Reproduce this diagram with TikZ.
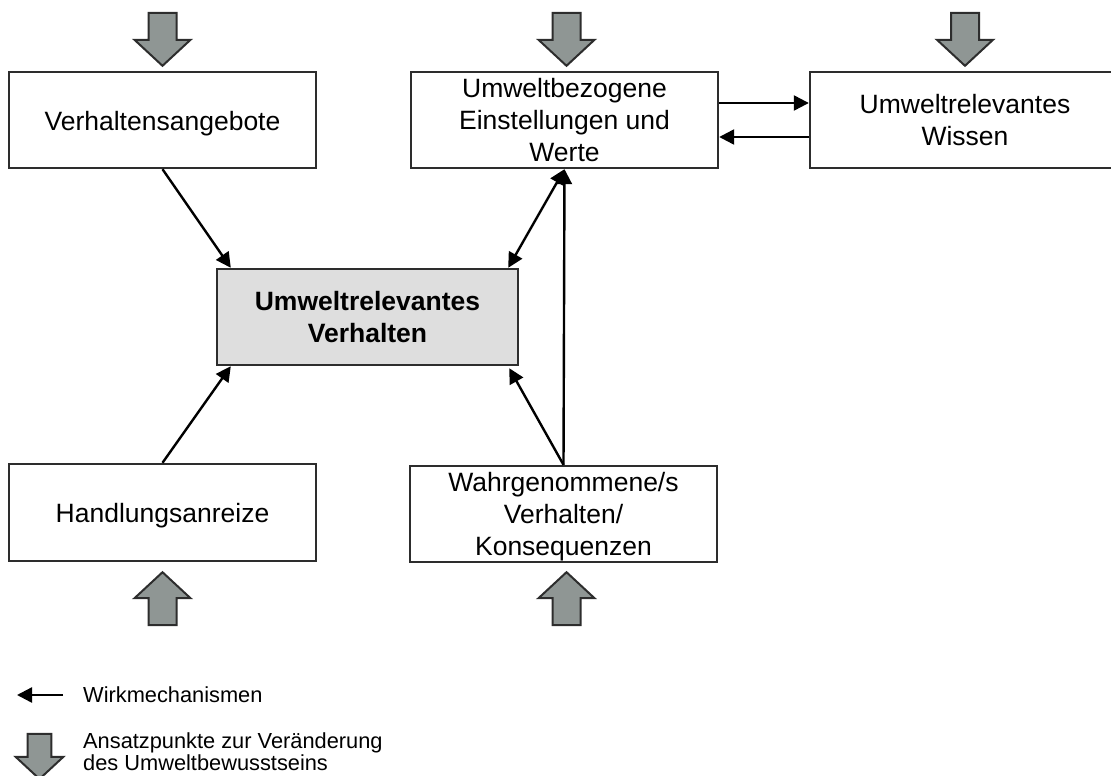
\documentclass[tikz,border=0pt]{standalone}
\usepackage{fontspec}
\setmainfont{Liberation Sans}
\usetikzlibrary{arrows.meta,calc}
\definecolor{boxline}{RGB}{45,45,45}
\definecolor{fatfill}{RGB}{143,150,148}
\definecolor{corefill}{RGB}{222,222,222}
\tikzset{
  box/.style={draw=boxline, line width=2.4pt, fill=white, minimum width=307pt,
    minimum height=96pt, inner sep=0pt, align=center,
    font=\fontsize{26.5}{32}\selectfont},
  core/.style={box, fill=corefill, minimum width=301pt,
    font=\fontsize{26.5}{32}\selectfont\bfseries},
  oneline/.style={text height=20pt, text depth=0pt},
  tipshape/.tip={Triangle[length=15pt,width=15pt]},
  link/.style={line width=2.4pt, -tipshape},
  twolink/.style={line width=2.4pt, tipshape-tipshape},
  fatarrow/.pic={\draw[draw=boxline, line width=2pt, fill=fatfill, line join=miter]
    (-14,-53) -- (14,-53) -- (14,-26) -- (28,-26) -- (0,0) -- (-28,-26) -- (-14,-26) -- cycle;},
  legendtext/.style={inner sep=0pt, align=left, font=\fontsize{21.8}{22}\selectfont}
}
\begin{document}
\begin{tikzpicture}[x=1pt,y=-1pt]
  \useasboundingbox (0,0) rectangle (1111,776);
  \clip (0,0) rectangle (1111,776);

  % boxes
  \node[box, oneline] (va) at (162.5,120) {Verhaltensangebote};
  \node[box, text depth=-4pt] (ub) at (564.5,120) {Umweltbezogene\\Einstellungen und\\Werte};
  \node[box, minimum width=310pt, text depth=-4pt] (wi) at (965,120) {Umweltrelevantes\\Wissen};
  \node[core, text depth=-4pt] (uv) at (367.5,317) {Umweltrelevantes\\Verhalten};
  \node[box, oneline, minimum height=97pt] (ha) at (162.5,512.5) {Handlungsanreize};
  \node[box, text depth=-0.5pt] (wg) at (563.5,514) {Wahrgenommene/s\\Verhalten/\\Konsequenzen};

  % mechanisms
  \draw[link] (va.south) -- ($(uv.north west)+(15,0)$);
  \draw[link] (ha.north) -- ($(uv.south west)+(15,0)$);
  \draw[twolink] (ub.south) -- ($(uv.north east)+(-11,0)$);
  \draw[link] (wg.north) -- ($(uv.south east)+(-10,2)$);
  \draw[link] (wg.north) -- (ub.south);
  \draw[link] ($(ub.east)+(0,-17)$) -- ($(wi.west)+(0,-17)$);
  \draw[link] ($(wi.west)+(0,17)$) -- ($(ub.east)+(0,17)$);

  % starting points for change
  \pic at ($(va.north)+(0,-5)$) {fatarrow};
  \pic at ($(ub.north)+(2,-5)$) {fatarrow};
  \pic at ($(wi.north)+(0,-5)$) {fatarrow};
  \pic[rotate=180] at ($(ha.south)+(0,10)$) {fatarrow};
  \pic[rotate=180] at ($(wg.south)+(3,9)$) {fatarrow};

  % legend
  \coordinate (lgA) at (63,695);
  \coordinate (lgB) at (17,695);
  \draw[link] (lgA) -- (lgB);
  \node[legendtext, anchor=base west] (lg1) at (83,702) {Wirkmechanismen};
  \pic[scale=0.85] at (39.5,779) {fatarrow};
  \node[legendtext, anchor=west] (lg2) at (83,752) {Ansatzpunkte zur Veränderung\\des Umweltbewusstseins};
\end{tikzpicture}
\end{document}
